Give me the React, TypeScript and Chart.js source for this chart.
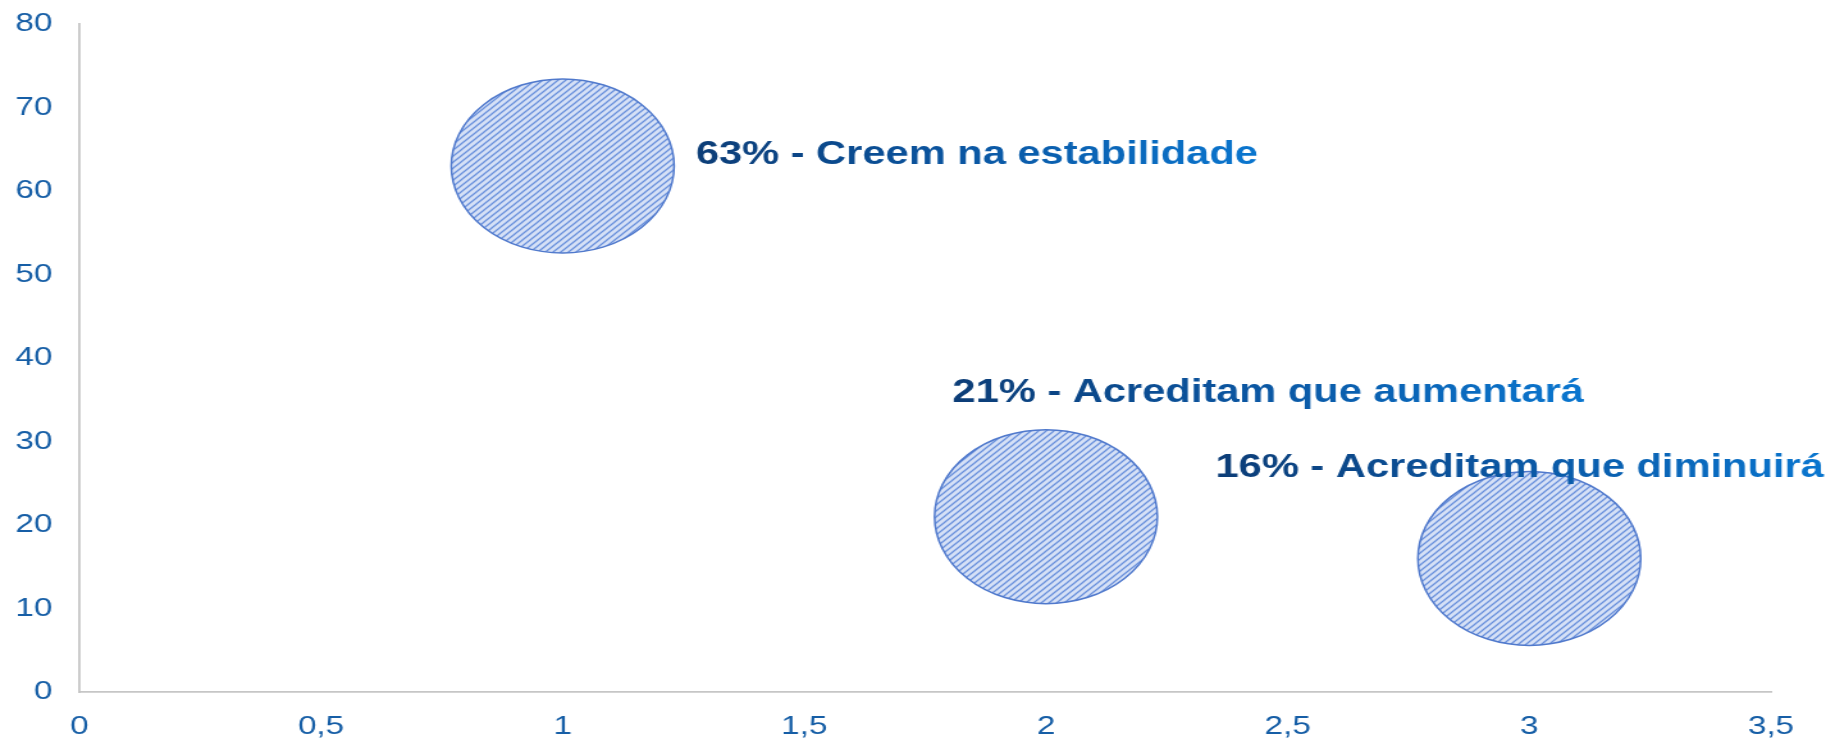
import React, { useEffect, useRef } from 'react';
import { Chart, registerables } from 'chart.js';

Chart.register(...registerables);

// ---- data ----
const xValues = [1, 2, 3];
const yValues = [63, 21, 16];
const bubbleSizes = [1, 1, 1];
const pointLabels = [
  '63% - Creem na estabilidade',
  '21% - Acreditam que aumentará',
  '16% - Acreditam que diminuirá',
];
const xTickLabels = ['0', '0,5', '1', '1,5', '2', '2,5', '3', '3,5'];
const yTickLabels = ['0', '10', '20', '30', '40', '50', '60', '70', '80'];

// ---- layout / style ----
const W = 1426;
const H = 741;
const SCALE_X = 1826 / W;
const BUBBLE_PX = 87;
const labelOffsets: [number, number][] = [
  [104, -14],
  [-73, -126],
  [-245, -93],
];
const LABEL_FONT_SIZE = 32.5;
const TICK_FONT = { size: 26, family: '"Liberation Sans", Arial, sans-serif' };
const TICK_COLOR = '#165ea6';

function makeHatch(): CanvasPattern | string {
  const tile = document.createElement('canvas');
  tile.width = 6;
  tile.height = 6;
  const t = tile.getContext('2d');
  if (!t) return '#a9c0ea';
  t.fillStyle = '#d5e0f6';
  t.fillRect(0, 0, 6, 6);
  t.strokeStyle = '#6990dc';
  t.lineWidth = 1.3;
  t.beginPath();
  t.moveTo(-1, 7);
  t.lineTo(7, -1);
  t.moveTo(-4, 4);
  t.lineTo(4, -4);
  t.moveTo(2, 10);
  t.lineTo(10, 2);
  t.stroke();
  const p = t.createPattern(tile, 'repeat');
  return p || '#a9c0ea';
}

const labelPlugin = {
  id: 'bubbleLabels',
  afterDatasetsDraw(chart: any) {
    const ctx = chart.ctx as CanvasRenderingContext2D;
    const meta = chart.getDatasetMeta(0);
    ctx.save();
    ctx.font = `bold ${LABEL_FONT_SIZE}px "Liberation Sans", Arial, sans-serif`;
    ctx.textAlign = 'left';
    ctx.textBaseline = 'alphabetic';
    meta.data.forEach((el: any, i: number) => {
      const text = pointLabels[i];
      const [dx, dy] = labelOffsets[i];
      const x = el.x + dx;
      const y = el.y + dy + LABEL_FONT_SIZE * 0.358;
      const w = ctx.measureText(text).width;
      const g = ctx.createLinearGradient(x, 0, x + w, 0);
      g.addColorStop(0, '#0c3d77');
      g.addColorStop(0.45, '#0b55a0');
      g.addColorStop(1, '#0a76cf');
      ctx.fillStyle = g;
      ctx.fillText(text, x, y);
    });
    ctx.restore();
  },
};

export default function App() {
  const canvasRef = useRef<HTMLCanvasElement | null>(null);

  useEffect(() => {
    const canvas = canvasRef.current;
    if (!canvas) return;
    const hatch = makeHatch();
    const chart = new Chart(canvas, {
      type: 'bubble',
      data: {
        datasets: [
          {
            data: xValues.map((x, i) => ({ x, y: yValues[i], r: bubbleSizes[i] * BUBBLE_PX })),
            backgroundColor: hatch as any,
            borderColor: '#5079cc',
            borderWidth: 1.5,
            hoverRadius: 0,
            clip: false,
          } as any,
        ],
      },
      options: {
        responsive: false,
        animation: false,
        layout: { autoPadding: false, padding: { left: 0, right: 43, top: 24, bottom: 0 } },
        plugins: {
          legend: { display: false },
          tooltip: { enabled: false },
        },
        scales: {
          x: {
            type: 'linear',
            min: 0,
            max: 3.5,
            ticks: {
              stepSize: 0.5,
              padding: 19,
              color: TICK_COLOR,
              font: TICK_FONT,
              callback: (v: any, i: number) => xTickLabels[i] ?? String(v),
              maxRotation: 0,
            },
            grid: { display: true, color: 'rgba(0,0,0,0)', drawTicks: false },
            border: { display: true, color: '#c6c6c6', width: 1.8 },
            afterFit: (s: any) => {
              s.height = 49;
              s.paddingLeft = 0;
              s.paddingRight = 0;
            },
          },
          y: {
            type: 'linear',
            min: 0,
            max: 80,
            ticks: {
              stepSize: 10,
              padding: 21,
              color: TICK_COLOR,
              font: TICK_FONT,
              callback: (v: any, i: number) => yTickLabels[i] ?? String(v),
            },
            grid: { display: true, color: 'rgba(0,0,0,0)', drawTicks: false },
            border: { display: true, color: '#c6c6c6', width: 1.8 },
            afterFit: (s: any) => {
              s.width = 62;
              s.paddingTop = 0;
              s.paddingBottom = 0;
            },
          },
        },
      } as any,
      plugins: [labelPlugin],
    });
    return () => chart.destroy();
  }, []);

  return (
    <div
      style={{
        position: 'fixed',
        left: 0,
        top: 0,
        width: 1826,
        height: 741,
        overflow: 'hidden',
        background: '#ffffff',
      }}
    >
      <canvas
        ref={canvasRef}
        width={W}
        height={H}
        style={{
          display: 'block',
          width: W + 'px',
          height: H + 'px',
          transform: `scaleX(${SCALE_X})`,
          transformOrigin: '0 0',
        }}
      />
    </div>
  );
}
